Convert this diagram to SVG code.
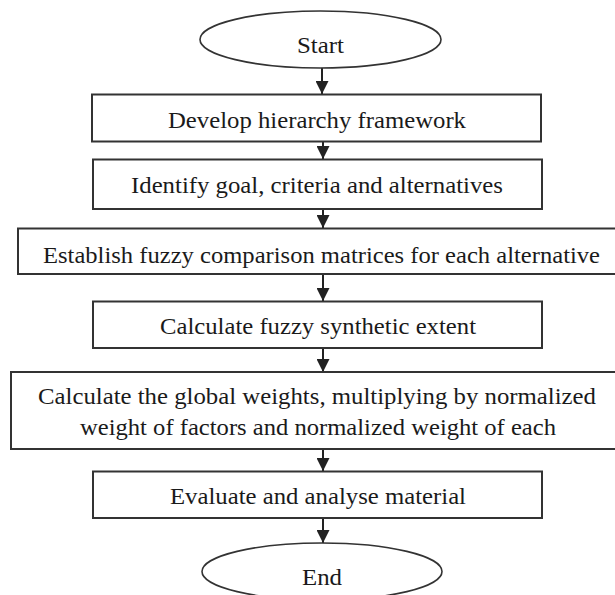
<svg xmlns="http://www.w3.org/2000/svg" width="615" height="595" viewBox="0 0 615 595">
<defs>
<style>
.box{fill:#fff;stroke:#333;stroke-width:2}
.term{fill:#fff;stroke:#333;stroke-width:1.6}
.lbl{font-family:"Liberation Serif","Times New Roman",serif;font-size:23px;fill:#1a1a1a;text-anchor:middle}
.conn{stroke:#222;stroke-width:2;fill:none;marker-end:url(#arr)}
</style>
<marker id="arr" markerUnits="userSpaceOnUse" markerWidth="13" markerHeight="13" refX="13" refY="6.5" orient="auto">
<path d="M0,0 L13,6.5 L0,13 z" fill="#222"/>
</marker>
</defs>
<rect width="615" height="595" fill="#fff"/>
<g id="connectors">
<line class="conn" x1="322" y1="68" x2="322" y2="94"/>
<line class="conn" x1="323" y1="142" x2="323" y2="159"/>
<line class="conn" x1="323" y1="210" x2="323" y2="228"/>
<line class="conn" x1="323" y1="275" x2="323" y2="301"/>
<line class="conn" x1="323" y1="349" x2="323" y2="372"/>
<line class="conn" x1="323" y1="450" x2="323" y2="471"/>
<line class="conn" x1="323" y1="519" x2="323" y2="543"/>
</g>
<g id="start">
<ellipse class="term" cx="320.5" cy="39.5" rx="120.5" ry="28.5"/>
<text class="lbl" x="320.5" y="53" textLength="47" lengthAdjust="spacingAndGlyphs">Start</text>
</g>
<g id="step1">
<rect class="box" x="92" y="94.5" width="449" height="47"/>
<text class="lbl" x="317" y="128" textLength="298" lengthAdjust="spacingAndGlyphs">Develop hierarchy framework</text>
</g>
<g id="step2">
<rect class="box" x="93" y="159.5" width="449" height="49.5"/>
<text class="lbl" x="317" y="193" textLength="372" lengthAdjust="spacingAndGlyphs">Identify goal, criteria and alternatives</text>
</g>
<g id="step3">
<rect class="box" x="18" y="228.5" width="610" height="45.5"/>
<text class="lbl" x="321.5" y="263" textLength="557" lengthAdjust="spacingAndGlyphs">Establish fuzzy comparison matrices for each alternative</text>
</g>
<g id="step4">
<rect class="box" x="93" y="301.5" width="449" height="46.5"/>
<text class="lbl" x="318" y="334" textLength="316" lengthAdjust="spacingAndGlyphs">Calculate fuzzy synthetic extent</text>
</g>
<g id="step5">
<rect class="box" x="11" y="372" width="620" height="77"/>
<text class="lbl" x="317" y="404" textLength="558" lengthAdjust="spacingAndGlyphs">Calculate the global weights, multiplying by normalized</text>
<text class="lbl" x="318" y="435" textLength="476" lengthAdjust="spacingAndGlyphs">weight of factors and normalized weight of each</text>
</g>
<g id="step6">
<rect class="box" x="93" y="471.5" width="449" height="46.5"/>
<text class="lbl" x="318" y="504" textLength="296" lengthAdjust="spacingAndGlyphs">Evaluate and analyse material</text>
</g>
<g id="end">
<ellipse class="term" cx="322" cy="571.5" rx="120" ry="28.5"/>
<text class="lbl" x="322" y="585" textLength="40" lengthAdjust="spacingAndGlyphs">End</text>
</g>
</svg>
